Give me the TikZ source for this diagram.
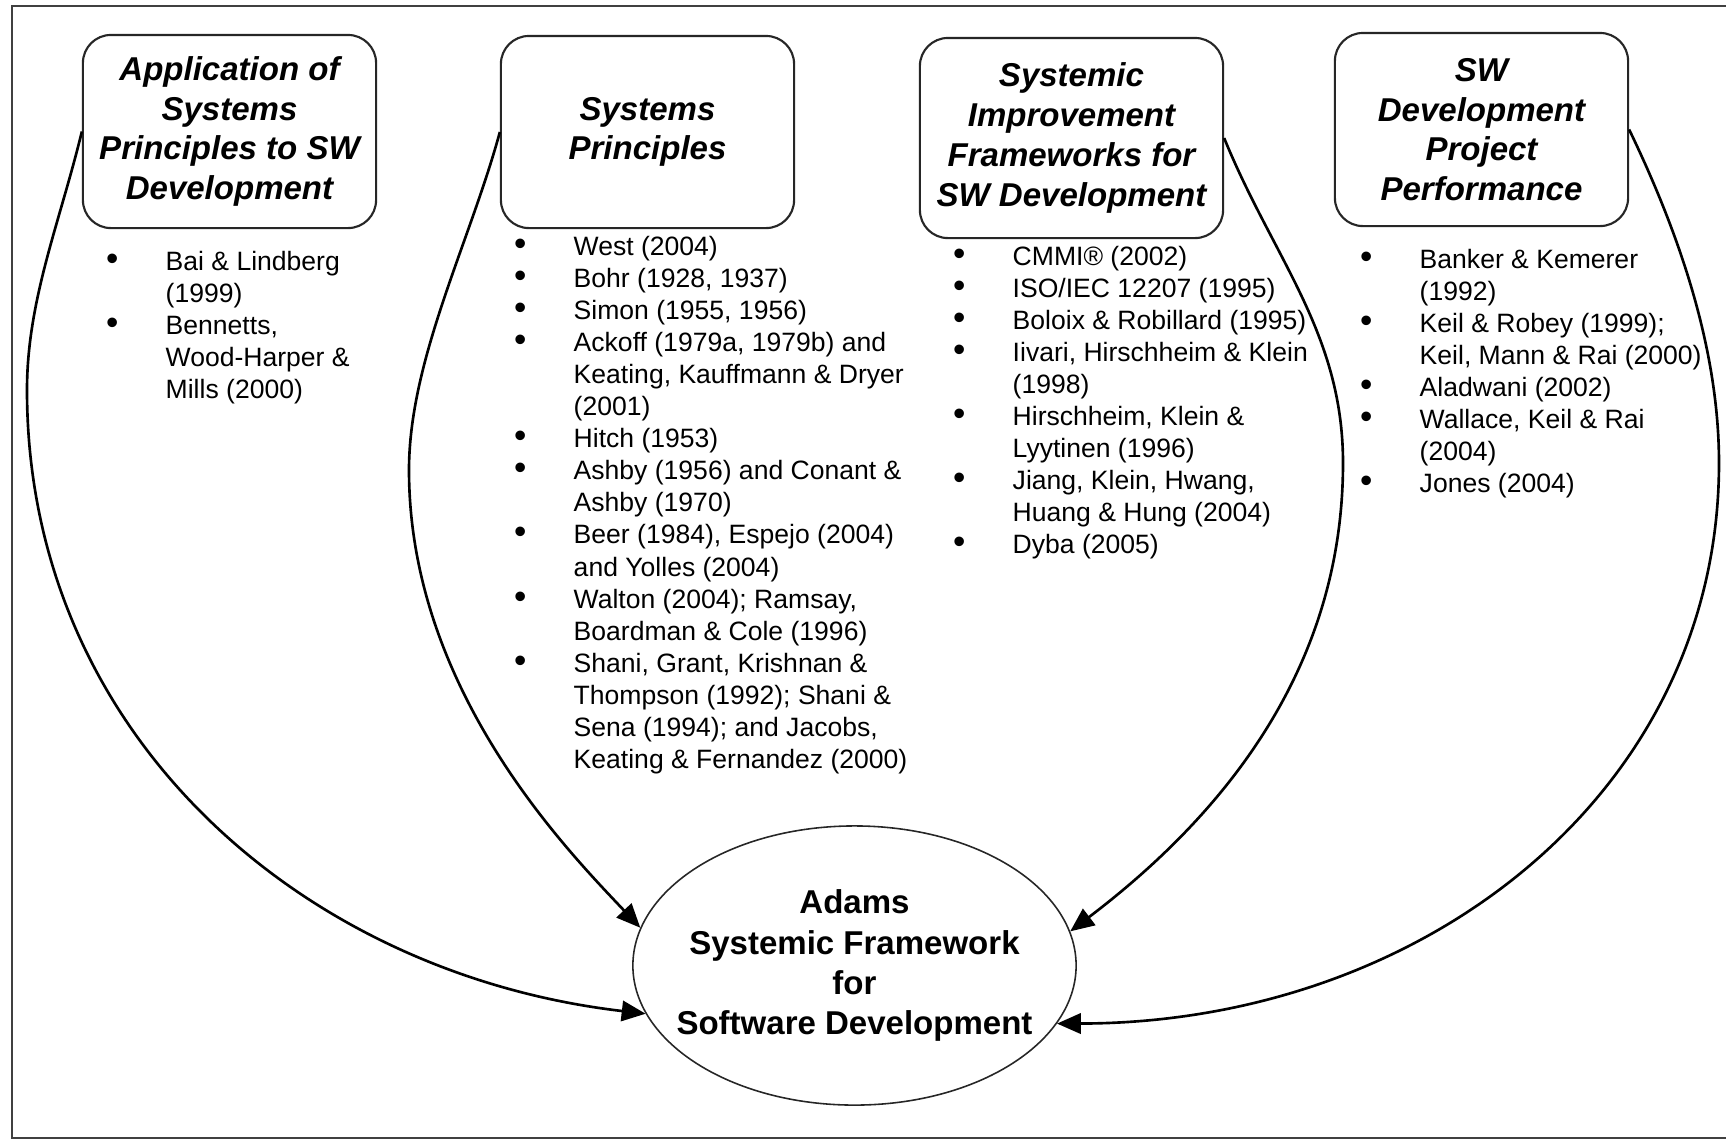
\documentclass[tikz,border=0pt]{standalone}
\usepackage{fontspec}
\setmainfont{Liberation Sans}
\usetikzlibrary{arrows.meta,shapes.geometric}
\newcommand{\bul}{{\fontsize{10}{9.13}\selectfont\textbullet}}
\begin{document}
\begin{tikzpicture}[x=0.01cm,y=-0.01cm,
  topic/.style={draw=black!85, line width=0.6pt, rounded corners=0.28cm,
    align=center, inner sep=0pt,
    font=\fontsize{9.39}{11.3}\selectfont\bfseries\itshape},
  reflist/.style={anchor=base west, inner sep=0pt,
    font=\fontsize{7.55}{9.13}\selectfont},
  feed/.style={line width=0.75pt, draw=black,
    -{Triangle[length=6.8pt,width=5.8pt]}},
]
\useasboundingbox (0,0) rectangle (1726,1141);

% outer frame (open to the right)
\draw[black!75, line width=0.7pt] (1740,6) -- (12,6) -- (12,1138) -- (1740,1138);

% topic boxes
\node[topic, minimum width=2.93cm, minimum height=1.93cm] (b1) at (229.5,131.5)
  {Application of\\Systems\\Principles to SW\\Development};
\node[topic, minimum width=2.93cm, minimum height=1.92cm] (b2) at (647.5,132)
  {Systems\\Principles};
\node[topic, minimum width=3.03cm, minimum height=2.00cm] (b3) at (1071.5,138)
  {Systemic\\Improvement\\Frameworks for\\SW Development};
\node[topic, minimum width=2.93cm, minimum height=1.93cm] (b4) at (1481.5,129.5)
  {SW\\Development\\Project\\Performance};

% reference lists
\node[reflist] (r1) at (105.4,270) {%
\begin{tabular}[t]{@{}p{0.596cm}@{}l@{}}
\bul & Bai \& Lindberg\\
     & (1999)\\
\bul & Bennetts,\\
     & Wood-Harper \&\\
     & Mills (2000)
\end{tabular}};

\node[reflist] (r2) at (513.4,255) {%
\begin{tabular}[t]{@{}p{0.596cm}@{}l@{}}
\bul & West (2004)\\
\bul & Bohr (1928, 1937)\\
\bul & Simon (1955, 1956)\\
\bul & Ackoff (1979a, 1979b) and\\
     & Keating, Kauffmann \& Dryer\\
     & (2001)\\
\bul & Hitch (1953)\\
\bul & Ashby (1956) and Conant \&\\
     & Ashby (1970)\\
\bul & Beer (1984), Espejo (2004)\\
     & and Yolles (2004)\\
\bul & Walton (2004); Ramsay,\\
     & Boardman \& Cole (1996)\\
\bul & Shani, Grant, Krishnan \&\\
     & Thompson (1992); Shani \&\\
     & Sena (1994); and Jacobs,\\
     & Keating \& Fernandez (2000)
\end{tabular}};

\node[reflist] (r3) at (952.4,265) {%
\begin{tabular}[t]{@{}p{0.596cm}@{}l@{}}
\bul & CMMI® (2002)\\
\bul & ISO/IEC 12207 (1995)\\
\bul & Boloix \& Robillard (1995)\\
\bul & Iivari, Hirschheim \& Klein\\
     & (1998)\\
\bul & Hirschheim, Klein \&\\
     & Lyytinen (1996)\\
\bul & Jiang, Klein, Hwang,\\
     & Huang \& Hung (2004)\\
\bul & Dyba (2005)
\end{tabular}};

\node[reflist] (r4) at (1359.4,268) {%
\begin{tabular}[t]{@{}p{0.596cm}@{}l@{}}
\bul & Banker \& Kemerer\\
     & (1992)\\
\bul & Keil \& Robey (1999);\\
     & Keil, Mann \& Rai (2000)\\
\bul & Aladwani (2002)\\
\bul & Wallace, Keil \& Rai\\
     & (2004)\\
\bul & Jones (2004)
\end{tabular}};

% central framework
\node[ellipse, draw=black!85, line width=0.45pt, minimum width=4.43cm,
  minimum height=2.79cm, inner sep=0pt] (el) at (854.5,965.5) {};
\node[align=center, inner sep=0pt,
  font=\fontsize{9.39}{11.4}\selectfont\bfseries] (elt) at (el.center)
  {Adams\\Systemic Framework\\for\\Software Development};

% feeding arrows
\draw[feed] (b1.west) .. controls (60,222) and (27,300) .. (27,390)
  .. controls (27,735) and (303,974) .. (el.193.6);
\draw[feed] (b2.west) .. controls (470,242) and (409,360) .. (409,470)
  .. controls (409,690) and (568,851) .. (el.170.2);
\draw[feed] (b3.east) .. controls (1273,258) and (1343,333) .. (1343,463)
  .. controls (1343,663) and (1230,810) .. (el.9.2);
\draw[feed] (b4.east) .. controls (1680,235) and (1719,350) .. (1719,463)
  .. controls (1719,793) and (1423,1023) .. (el.344.1);
\end{tikzpicture}
\end{document}
